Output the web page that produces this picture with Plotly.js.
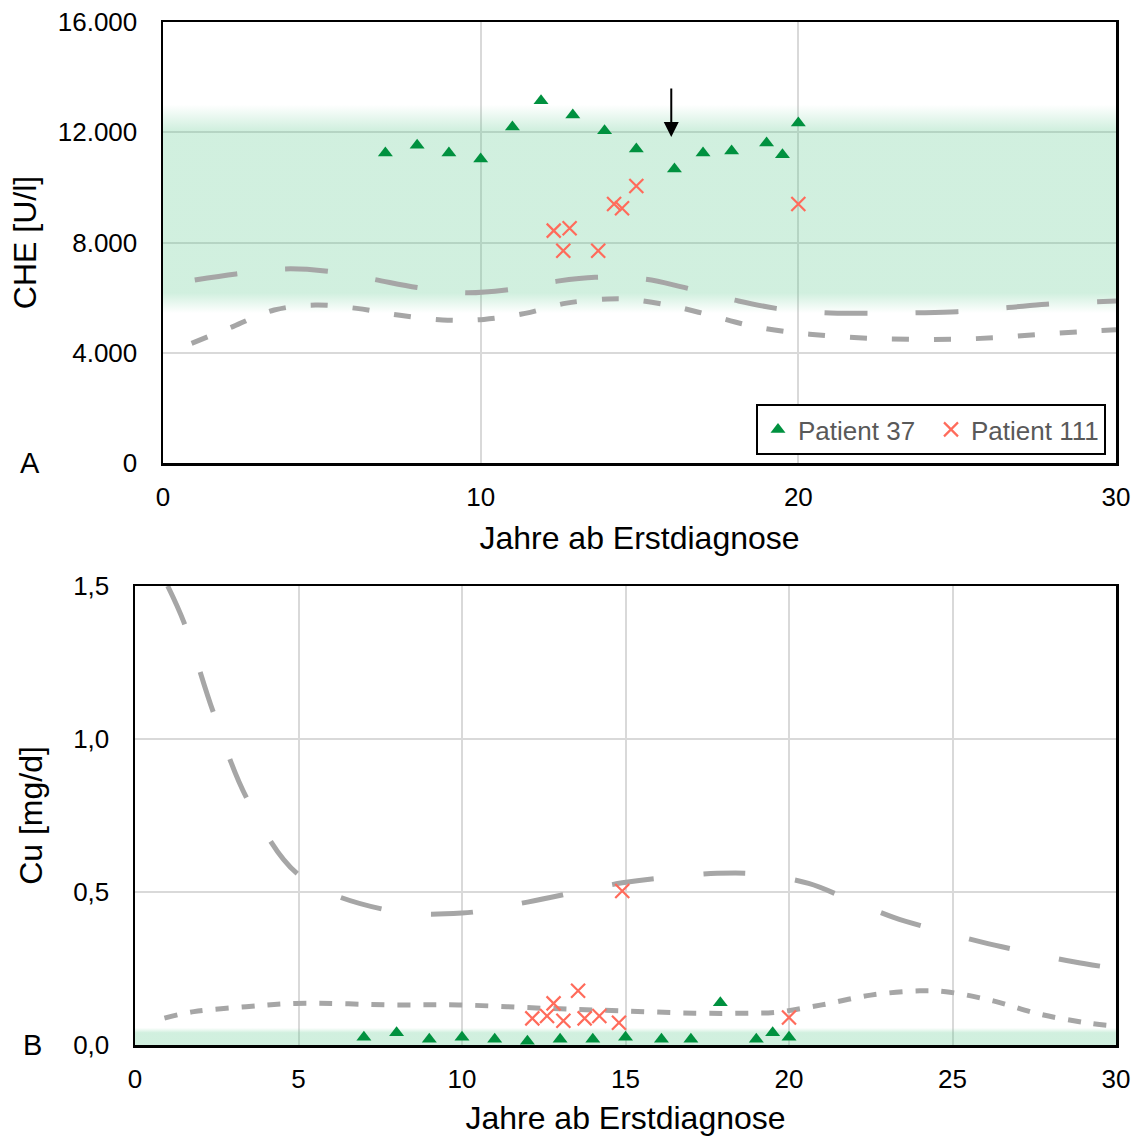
<!DOCTYPE html>
<html>
<head>
<meta charset="utf-8">
<script src="https://cdn.plot.ly/plotly-3.0.1.min.js"></script>
<style>html,body{margin:0;padding:0;background:#fff;}#chart{width:1141px;height:1138px;}</style>
</head>
<body>
<div id="chart"></div>
<script>
// ---- Data: panel A (CHE [U/l]) ----
const p37_che_x = [7, 8, 9, 10, 11, 11.9, 12.9, 13.9, 14.9, 16.1, 17, 17.9, 19, 19.5, 20];
const p37_che_y = [11250, 11530, 11250, 11030, 12190, 13140, 12630, 12050, 11390, 10670, 11250, 11320, 11610, 11180, 12340];
const p111_che_x = [12.3, 12.8, 12.6, 13.7, 14.2, 14.45, 14.9, 20];
const p111_che_y = [8430, 8520, 7700, 7700, 9400, 9240, 10050, 9400];
const refHigh_che_x = [1, 2.3, 3.8, 5.1, 6.6, 8, 9.5, 10.8, 12.3, 13.6, 15.2, 16.4, 18, 19.3, 20.8, 22.2, 23.7, 25, 26.6, 27.8, 29.4, 30];
const refHigh_che_y = [6640, 6860, 7040, 6970, 6670, 6370, 6180, 6280, 6580, 6740, 6670, 6370, 5910, 5610, 5450, 5430, 5450, 5490, 5640, 5760, 5850, 5880];
const refLow_che_x = [0.9, 2.2, 3.5, 4.8, 6.1, 7.4, 8.8, 10.1, 11.4, 12.7, 14, 14.6, 15.9, 17.2, 18.5, 19.8, 20.9, 22.2, 23.5, 24.9, 26.2, 27.6, 28.9, 30];
const refLow_che_y = [4340, 4950, 5550, 5730, 5610, 5370, 5190, 5210, 5430, 5800, 5950, 5950, 5730, 5370, 4980, 4740, 4620, 4525, 4490, 4490, 4546, 4670, 4764, 4830];
const normBand_che = [5440, 13000];        // normal range band (with soft edges)
const normBandSolid_che = [6170, 12080];
const arrowYear = 16, arrowFrom = 13640, arrowTo = 11830;

// ---- Data: panel B (Cu [mg/d]) ----
const p37_cu_x = [7, 8, 9, 10, 11, 12, 13, 14, 15, 16.1, 17, 17.9, 19, 19.5, 20];
const p37_cu_y = [0.025, 0.040, 0.019, 0.025, 0.019, 0.012, 0.019, 0.019, 0.025, 0.019, 0.019, 0.138, 0.019, 0.040, 0.025];
const p111_cu_x = [12.15, 12.6, 12.8, 13.1, 13.55, 13.75, 14.2, 14.8, 14.9, 20];
const p111_cu_y = [0.087, 0.095, 0.136, 0.079, 0.177, 0.087, 0.095, 0.073, 0.503, 0.090];
const refHigh_cu_x = [1, 1.5, 2.4, 3.45, 5.05, 7.7, 10, 12, 14.9, 16.2, 17.8, 19, 20.6, 21.8, 23.2, 24.5, 25.9, 27.2, 28.7, 30];
const refHigh_cu_y = [1.50, 1.38, 1.086, 0.80, 0.552, 0.441, 0.431, 0.467, 0.530, 0.547, 0.561, 0.559, 0.528, 0.477, 0.417, 0.376, 0.336, 0.305, 0.272, 0.25];
const refLow_cu_x = [0.9, 1.8, 3.4, 4.9, 8, 9.9, 12.5, 14.8, 17.1, 18.8, 19.6, 21, 22.5, 24, 24.8, 26.25, 27.7, 29.2, 30];
const refLow_cu_y = [0.088, 0.109, 0.125, 0.136, 0.131, 0.131, 0.120, 0.112, 0.104, 0.104, 0.107, 0.131, 0.163, 0.177, 0.174, 0.144, 0.100, 0.071, 0.062];
const normBand_cu = [0, 0.056];
const normBandSolid_cu = [0, 0.040];

// ---- Axes ----
const xRange = [0, 30];
const bandX = [0, 30];
const ticksA_x = [0, 10, 20, 30];
const ticksA_y = [0, 4000, 8000, 12000, 16000];
const ticksA_yText = ['0', '4.000', '8.000', '12.000', '16.000'];
const ticksB_x = [0, 5, 10, 15, 20, 25, 30];
const ticksB_y = [0, 0.5, 1, 1.5];
const ticksB_yText = ['0,0', '0,5', '1,0', '1,5'];

const FONT = 'Liberation Sans, Arial, sans-serif';
const GREEN = '#00913f', SALMON = '#ff6b5b', GREY = '#a6a6a6';
const BANDCOL = 'rgba(90,200,140,0.28)', BANDCLR = 'rgba(90,200,140,0)';

function band(xa, ya, lim, solid) {
  const lo = lim[0], hi = lim[1];
  const s1 = (solid[0] - lo) / (hi - lo), s2 = (solid[1] - lo) / (hi - lo);
  const cs = s1 <= 0 ? [[0, BANDCOL], [s2, BANDCOL], [1, BANDCLR]]
                     : [[0, BANDCLR], [s1, BANDCOL], [s2, BANDCOL], [1, BANDCLR]];
  return {
    x: [bandX[0], bandX[1], bandX[1], bandX[0], bandX[0]],
    y: [lo, lo, hi, hi, lo],
    xaxis: xa, yaxis: ya, type: 'scatter', mode: 'none', fill: 'toself',
    fillcolor: BANDCOL,
    fillgradient: {type: 'vertical', colorscale: cs},
    hoverinfo: 'skip', showlegend: false
  };
}
function refLine(xa, ya, x, y, dash) {
  return {x: x, y: y, xaxis: xa, yaxis: ya, type: 'scatter', mode: 'lines',
    line: {color: GREY, width: 5, dash: dash, shape: 'spline', smoothing: 1},
    hoverinfo: 'skip', showlegend: false};
}
function tri(xa, ya, x, y, show) {
  return {x: x, y: y, xaxis: xa, yaxis: ya, type: 'scatter', mode: 'markers', name: 'Patient 37',
    marker: {symbol: 'triangle-up', size: 13, color: GREEN}, showlegend: show, legendrank: 1};
}
function cross(xa, ya, x, y, show) {
  return {x: x, y: y, xaxis: xa, yaxis: ya, type: 'scatter', mode: 'markers', name: 'Patient 111',
    marker: {symbol: 'x-thin', size: 14, color: SALMON, line: {color: SALMON, width: 2.2}}, showlegend: show, legendrank: 2};
}

const data = [
  band('x', 'y', normBand_che, normBandSolid_che),
  refLine('x', 'y', refHigh_che_x, refHigh_che_y, '43px,48px'),
  refLine('x', 'y', refLow_che_x, refLow_che_y, '17px,25px'),
  tri('x', 'y', p37_che_x, p37_che_y, true),
  cross('x', 'y', p111_che_x, p111_che_y, true),
  band('x2', 'y2', normBand_cu, normBandSolid_cu),
  refLine('x2', 'y2', refHigh_cu_x, refHigh_cu_y, '42px,50px'),
  refLine('x2', 'y2', refLow_cu_x, refLow_cu_y, '13px,13px'),
  tri('x2', 'y2', p37_cu_x, p37_cu_y, false),
  cross('x2', 'y2', p111_cu_x, p111_cu_y, false)
];

const W = 1141, H = 1138;
const axCommon = {
  showline: true, mirror: true, linecolor: '#000', linewidth: 2.5,
  showgrid: true, gridcolor: '#d9d9d9', gridwidth: 2, zeroline: false,
  ticks: '', tickfont: {family: FONT, size: 26, color: '#000'}, fixedrange: true, automargin: false
};
const titleFont = {family: FONT, size: 32, color: '#000'};

const layout = {
  width: W, height: H,
  margin: {l: 0, r: 0, t: 0, b: 0},
  paper_bgcolor: '#fff', plot_bgcolor: '#fff',
  font: {family: FONT},
  showlegend: true,
  legend: {
    orientation: 'h', x: 1106 / W, y: 1 - 455 / H, xanchor: 'right', yanchor: 'bottom',
    bgcolor: '#fff', bordercolor: '#000', borderwidth: 2,
    font: {family: FONT, size: 26, color: '#595959'}, itemwidth: 30, traceorder: 'normal',
    entrywidth: 128, entrywidthmode: 'pixels'
  },
  xaxis: Object.assign({}, axCommon, {
    domain: [163 / W, 1116 / W], range: xRange, tickvals: ticksA_x, anchor: 'y',
    ticklabelstandoff: 9,
    title: {text: 'Jahre ab Erstdiagnose', font: titleFont, standoff: 16}
  }),
  yaxis: Object.assign({}, axCommon, {
    domain: [1 - 463 / H, 1 - 22 / H], range: [0, 16000], tickvals: ticksA_y, ticktext: ticksA_yText, anchor: 'x',
    ticklabelstandoff: 18,
    title: {text: 'CHE [U/l]', font: titleFont, standoff: 12}
  }),
  xaxis2: Object.assign({}, axCommon, {
    domain: [135 / W, 1116 / W], range: xRange, tickvals: ticksB_x, anchor: 'y2',
    ticklabelstandoff: 9,
    title: {text: 'Jahre ab Erstdiagnose', font: titleFont, standoff: 14}
  }),
  yaxis2: Object.assign({}, axCommon, {
    domain: [1 - 1045 / H, 1 - 586 / H], range: [0, 1.5], tickvals: ticksB_y, ticktext: ticksB_yText, anchor: 'x2',
    ticklabelstandoff: 18,
    title: {text: 'Cu [mg/d]', font: titleFont, standoff: 21}
  }),
  annotations: [
    {x: arrowYear, y: arrowTo, ax: arrowYear, ay: arrowFrom, xref: 'x', yref: 'y', axref: 'x', ayref: 'y',
     text: '', showarrow: true, arrowhead: 2, arrowsize: 1.5, arrowwidth: 2, arrowcolor: '#000', standoff: 0},
    {x: 30 / W, y: 1 - 463 / H, xref: 'paper', yref: 'paper', text: 'A', showarrow: false,
     font: {family: FONT, size: 29, color: '#000'}, xanchor: 'center', yanchor: 'middle'},
    {x: 32 / W, y: 1 - 1045 / H, xref: 'paper', yref: 'paper', text: 'B', showarrow: false,
     font: {family: FONT, size: 29, color: '#000'}, xanchor: 'center', yanchor: 'middle'}
  ]
};

Plotly.newPlot('chart', data, layout, {displayModeBar: false, staticPlot: true});
</script>
</body>
</html>
